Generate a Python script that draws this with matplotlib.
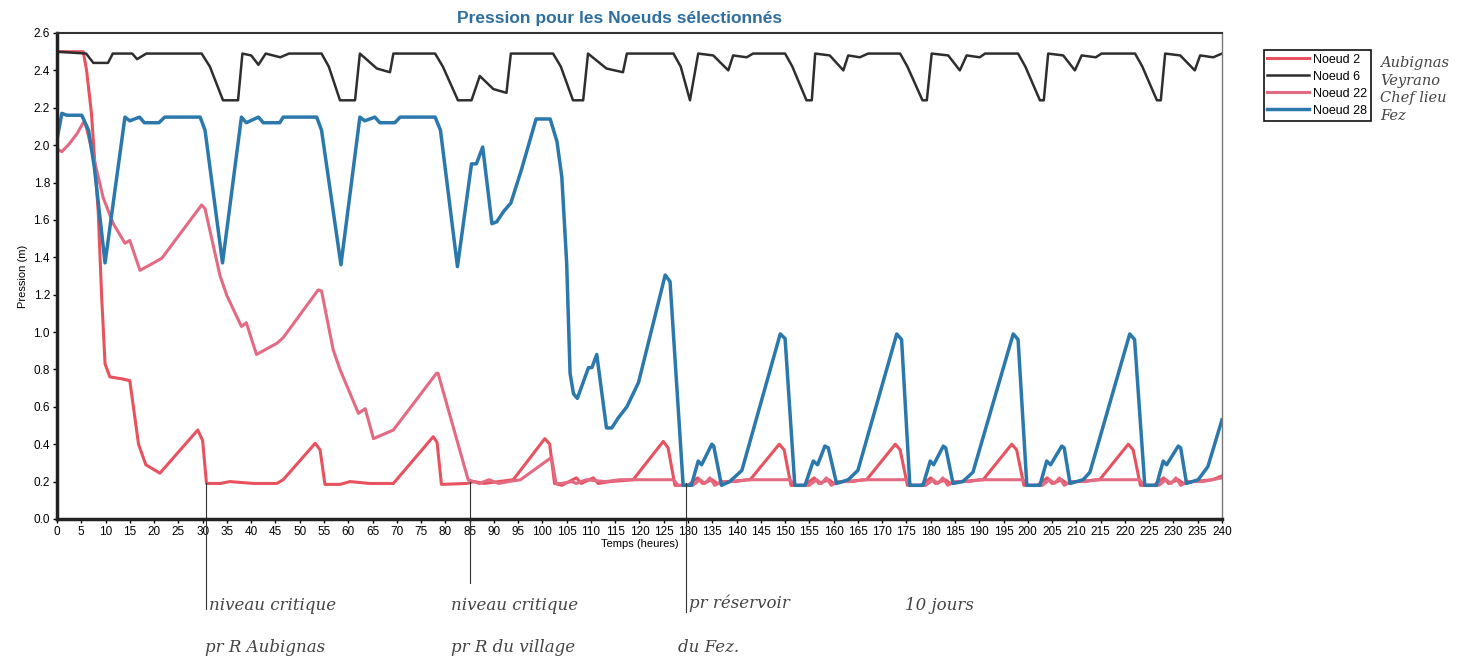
import matplotlib.pyplot as plt

plt.rcParams['font.family'] = ['Liberation Sans', 'DejaVu Sans']

# Noeud 6 (black)
t_n6 = [0, 6, 7.5, 10.5, 11.5, 15.5, 16.5, 18.4, 29.8, 31.5, 34.2, 37.3, 38.2, 40, 41.5, 43, 46,
        47.8, 54.5, 56, 58.3, 61.4, 62.4, 65.9, 68.6, 69.3, 77.9, 79.5, 82.6, 85.4, 87.1, 89.9,
        92.6, 93.5, 102.2, 103.8, 106.3, 108.4, 109.4, 113.2, 116.6, 117.4, 127, 128.5, 130.4,
        132.1, 135.2, 138.3, 139.3, 142.1, 143.4, 150, 151.5, 154.4, 155.5, 156.2, 159.2, 162,
        163, 165.4, 167.1, 173.7, 175.2, 178.3, 179.2, 180.2, 183.6, 186, 187.4, 190.1, 191.2,
        198, 199.5, 202.5, 203.3, 204.2, 207.3, 209.7, 211.1, 214, 215.2, 222.1, 223.6, 226.6,
        227.4, 228.3, 231.4, 234.4, 235.5, 238.2, 240]
v_n6 = [2.50, 2.49, 2.44, 2.44, 2.49, 2.49, 2.46, 2.49, 2.49, 2.42, 2.24, 2.24, 2.49, 2.48, 2.43, 2.49, 2.47,
        2.49, 2.49, 2.42, 2.24, 2.24, 2.49, 2.41, 2.39, 2.49, 2.49, 2.42, 2.24, 2.24, 2.37, 2.30,
        2.28, 2.49, 2.49, 2.42, 2.24, 2.24, 2.49, 2.41, 2.39, 2.49, 2.49, 2.42, 2.24,
        2.49, 2.48, 2.40, 2.48, 2.47, 2.49, 2.49, 2.42, 2.24, 2.24, 2.49, 2.48, 2.40,
        2.48, 2.47, 2.49, 2.49, 2.42, 2.24, 2.24, 2.49, 2.48, 2.40, 2.48, 2.47, 2.49,
        2.49, 2.42, 2.24, 2.24, 2.49, 2.48, 2.40, 2.48, 2.47, 2.49, 2.49, 2.42, 2.24,
        2.24, 2.49, 2.48, 2.40, 2.48, 2.47, 2.49]

# Noeud 28 (blue)
t_n28 = [0, 1, 2, 5.1, 6.5, 7.7, 9.9, 14, 15, 17, 18, 21, 22.2, 29.5, 30.5, 34.1, 38, 39, 41.5,
         42.5, 45.9, 46.6, 53.5, 54.5, 58.5, 62.4, 63.4, 65.5, 66.5, 69.6, 70.7, 77.9, 79,
         82.5, 85.4, 86.4, 87.7, 89.6, 90.6, 92, 93.5, 95.7, 98.7, 101.6, 103, 104, 105,
         105.7, 106.4, 107.2, 109.5, 110.2, 111.2, 113.2, 114.3, 115.6, 117.4, 119.8, 125.3,
         126.3, 129, 130.7, 132.1, 132.8, 134.9, 135.3, 136.9, 138.6, 141.1, 149, 150, 152,
         154.1, 155.8, 156.7, 158.2, 158.9, 160.6, 163, 165, 173, 174, 175.7, 178.4, 179.9,
         180.6, 182.6, 183.1, 184.6, 186.6, 188.7, 197, 198, 199.8, 202.5, 203.9, 204.7, 207,
         207.5, 208.7, 211.4, 212.8, 221, 222, 224.1, 226.5, 227.9, 228.6, 231, 231.5, 232.7,
         235.1, 237.1, 240]
v_n28 = [2.03, 2.17, 2.16, 2.16, 2.08, 1.88, 1.37, 2.15, 2.13, 2.15, 2.12, 2.12, 2.15, 2.15, 2.08, 1.37, 2.15, 2.12, 2.15,
         2.12, 2.12, 2.15, 2.15, 2.08, 1.36, 2.15, 2.13, 2.15, 2.12, 2.12, 2.15, 2.15, 2.08,
         1.35, 1.90, 1.90, 1.99, 1.58, 1.59, 1.645, 1.69, 1.87, 2.14, 2.14, 2.02, 1.83, 1.37,
         0.78, 0.67, 0.645, 0.81, 0.81, 0.88, 0.487, 0.487, 0.54, 0.60, 0.73, 1.305,
         1.27, 0.18, 0.18, 0.31, 0.29, 0.40, 0.39, 0.18, 0.20, 0.26, 0.99, 0.965, 0.18,
         0.18, 0.31, 0.29, 0.39, 0.38, 0.19, 0.21, 0.26, 0.99, 0.96, 0.18, 0.18, 0.31,
         0.29, 0.39, 0.38, 0.19, 0.20, 0.25, 0.99, 0.96, 0.18, 0.18, 0.31, 0.29, 0.39,
         0.38, 0.19, 0.21, 0.25, 0.99, 0.96, 0.18, 0.18, 0.31, 0.29, 0.39, 0.38, 0.19,
         0.21, 0.28, 0.53]

# Noeud 2 (red, fast drop)
t_n2 = [0, 5.4, 6.1, 7.1, 8.5, 9.2, 9.9, 10.9, 13.3, 15, 16.8, 18.3, 21.2, 29, 30, 30.8, 33.6,
        35.6, 40.5, 45.3, 46.6, 53.2, 54.2, 55.2, 58.3, 60.4, 64.4, 69.3, 77.5, 78.3, 79.2,
        84.4, 86, 88, 91, 94, 100.5, 101.5, 102.5, 104, 107, 108, 110.5, 111.5, 114, 118.7,
        124.9, 125.9, 127.3, 130, 132, 133, 135, 136, 138, 142.8, 148.8, 149.8, 151.2, 154,
        156, 157, 159, 160, 162, 166.8, 172.7, 173.7, 175.2, 178, 180, 181, 183, 184, 186,
        190.8, 196.7, 197.7, 199.2, 202, 204, 205, 207, 208, 210, 214.8, 220.7, 221.7, 223.2,
        226, 228, 229, 231, 232, 234, 238, 240]
v_n2 = [2.50, 2.50, 2.40, 2.17, 1.64, 1.19, 0.83, 0.76, 0.75, 0.74, 0.40, 0.29, 0.245, 0.476, 0.42, 0.19, 0.19,
        0.20, 0.19, 0.19, 0.21, 0.405, 0.37, 0.185, 0.185, 0.20, 0.19, 0.19, 0.44, 0.41, 0.185,
        0.19, 0.20, 0.19, 0.20, 0.21, 0.43, 0.40, 0.19, 0.18, 0.22, 0.19, 0.22, 0.19, 0.20, 0.21,
        0.415, 0.38, 0.18, 0.18, 0.22, 0.19, 0.21, 0.19, 0.20, 0.21, 0.40, 0.37, 0.18, 0.18,
        0.22, 0.19, 0.21, 0.19, 0.20, 0.21, 0.40, 0.37, 0.18, 0.18, 0.22, 0.19, 0.21, 0.19, 0.20,
        0.21, 0.40, 0.37, 0.18, 0.18, 0.22, 0.19, 0.21, 0.19, 0.20, 0.21, 0.40, 0.37, 0.18,
        0.18, 0.22, 0.19, 0.21, 0.19, 0.20, 0.21, 0.23]

# Noeud 22 (pink, slow decline)
t_n22 = [0, 1, 2.3, 4.1, 5.4, 5.8, 7.5, 9.5, 11.6, 14, 15, 17.1, 19.2, 21.6, 29.8, 30.5, 33.6,
         35, 38, 39, 41.1, 45.3, 46.6, 53.8, 54.5, 56.9, 58.3, 62.1, 63.5, 65.2, 69.3, 78.2,
         78.5, 84.7, 87, 89, 91, 93, 95.5, 101.9, 102.8, 104, 106, 107, 109, 113, 116, 127,
         128, 131, 132.5, 133.5, 134.5, 135.5, 137, 140, 142, 151, 152, 155, 156.5, 157.5,
         158.5, 159.5, 161, 164, 166, 175, 176, 179, 180.5, 181.5, 182.5, 183.5, 185, 188,
         190, 199, 200, 203, 204.5, 205.5, 206.5, 207.5, 209, 212, 214, 223, 224, 227, 228.5,
         229.5, 230.5, 231.5, 233, 236, 240]
v_n22 = [1.98, 1.965, 2.0, 2.06, 2.12, 2.12, 1.94, 1.72, 1.58, 1.475, 1.49, 1.33, 1.36, 1.395, 1.68, 1.66, 1.30,
         1.195, 1.03, 1.05, 0.88, 0.94, 0.97, 1.225, 1.22, 0.905, 0.80, 0.565, 0.59, 0.43, 0.476, 0.78,
         0.78, 0.21, 0.19, 0.21, 0.19, 0.20, 0.21, 0.33, 0.19, 0.19, 0.20, 0.19, 0.21, 0.20, 0.21, 0.21,
         0.18, 0.18, 0.21, 0.19, 0.22, 0.18, 0.20, 0.20, 0.21, 0.21, 0.18, 0.18, 0.21, 0.19,
         0.22, 0.18, 0.20, 0.20, 0.21, 0.21, 0.18, 0.18, 0.21, 0.19, 0.22, 0.18, 0.20, 0.20,
         0.21, 0.21, 0.18, 0.18, 0.21, 0.19, 0.22, 0.18, 0.20, 0.20, 0.21, 0.21, 0.18, 0.18, 0.21,
         0.19, 0.22, 0.18, 0.20, 0.20, 0.22]

series_names = ['Noeud 2', 'Noeud 6', 'Noeud 22', 'Noeud 28']
notes_right = ['Aubignas', 'Veyrano', 'Chef lieu', 'Fez']

fig = plt.figure(figsize=(14.65, 6.68), dpi=100)
ax = fig.add_axes([0.0389, 0.2231, 0.7952, 0.7275])

l2, = ax.plot(t_n2, v_n2, color='#e8525e', lw=2.2)
l6, = ax.plot(t_n6, v_n6, color='#2e2e2e', lw=1.8)
l22, = ax.plot(t_n22, v_n22, color='#e46a82', lw=2.2)
l28, = ax.plot(t_n28, v_n28, color='#2b78ad', lw=2.5)

ax.set_xlim(0, 240)
ax.set_ylim(0, 2.6)
ax.set_xticks(range(0, 241, 5))
ax.set_yticks([i * 0.2 for i in range(14)])
ax.set_yticklabels([f'{i * 0.2:.1f}' for i in range(14)])
ax.tick_params(labelsize=8.5, length=3, width=1, direction='out', pad=2)

for side in ['left', 'bottom']:
    ax.spines[side].set_linewidth(2.5)
    ax.spines[side].set_color('#222222')
ax.spines['top'].set_linewidth(1.5)
ax.spines['top'].set_color('#333333')
ax.spines['right'].set_linewidth(1)
ax.spines['right'].set_color('#777777')

ax.set_xlabel('Temps (heures)', fontsize=8, labelpad=1)
ax.set_ylabel('Pression (m)', fontsize=8, labelpad=4)

fig.text(0.423, 0.972, 'Pression pour les Noeuds sélectionnés', fontsize=12.5,
         fontweight='bold', color='#2f6f9f', ha='center', va='center')

leg = fig.legend([l2, l6, l22, l28], series_names, loc='upper left',
                 bbox_to_anchor=(0.8625, 0.925), fontsize=9, handlelength=3.3,
                 fancybox=False, edgecolor='#111111', framealpha=1,
                 borderpad=0.3, labelspacing=0.4, handletextpad=0.35, borderaxespad=0)
leg.get_frame().set_linewidth(1.2)

# pencil notes
hand = dict(family='DejaVu Serif', style='italic', color='#444444', fontsize=12)
for i, txt in enumerate(notes_right):
    fig.text(0.942, 0.905 - i * 0.026, txt, ha='left', va='center', **dict(hand, fontsize=10.5))

ax.plot([30.7, 30.7], [0.19, -0.48], color='#333333', lw=0.8, clip_on=False)
ax.plot([85.1, 85.1], [0.20, -0.34], color='#333333', lw=0.8, clip_on=False)
ax.plot([129.6, 129.6], [0.19, -0.50], color='#333333', lw=0.8, clip_on=False)

fig.text(0.143, 0.093, 'niveau critique', ha='left', va='center', **hand)
fig.text(0.140, 0.030, 'pr R Aubignas', ha='left', va='center', **hand)
fig.text(0.308, 0.093, 'niveau critique', ha='left', va='center', **hand)
fig.text(0.308, 0.030, 'pr R du village', ha='left', va='center', **hand)
fig.text(0.470, 0.097, 'pr réservoir', ha='left', va='center', **hand)
fig.text(0.463, 0.030, 'du Fez.', ha='left', va='center', **hand)
fig.text(0.618, 0.093, '10 jours', ha='left', va='center', **hand)

fig.savefig('out.png', dpi=100)
